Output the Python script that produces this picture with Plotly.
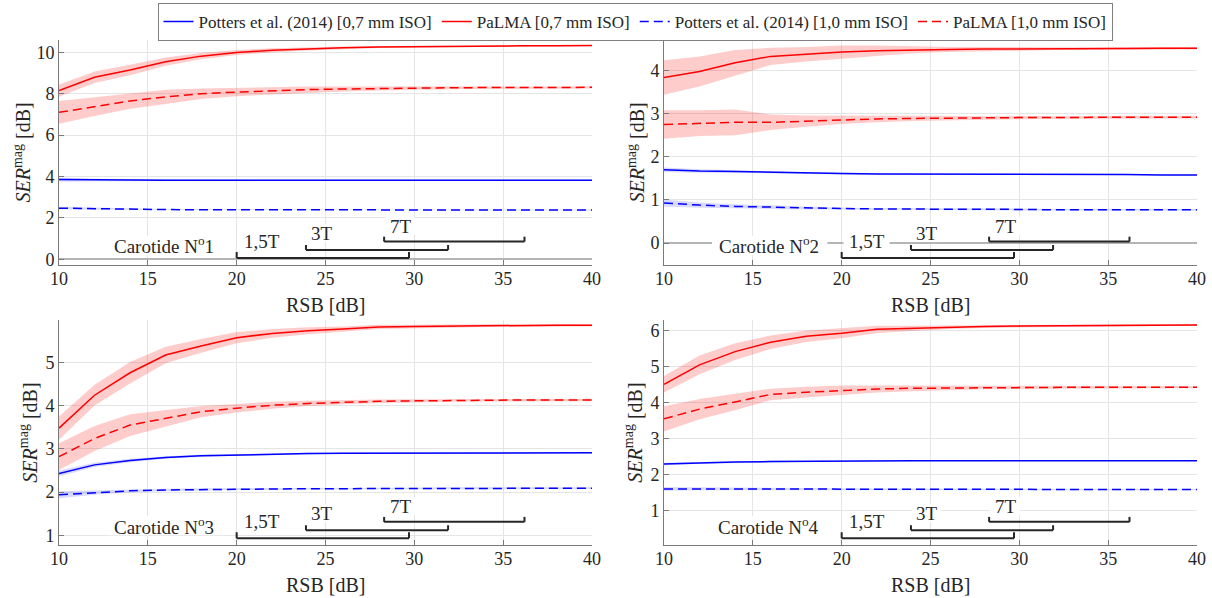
import plotly.graph_objects as go

# ---------------- data ----------------
rsb = [10, 12, 14, 16, 18, 20, 22, 24, 26, 28, 30, 32, 34, 36, 38, 40]
x_ticks = [10, 15, 20, 25, 30, 35, 40]

series_names = ["Potters et al. (2014) [0,7 mm ISO]", "PaLMA [0,7 mm ISO]",
                "Potters et al. (2014) [1,0 mm ISO]", "PaLMA [1,0 mm ISO]"]

# Carotide 1
c1_potters07 = [3.85, 3.83, 3.83, 3.82, 3.82, 3.82, 3.82, 3.82, 3.82, 3.82, 3.82, 3.82, 3.82, 3.82, 3.82, 3.82]
c1_potters07_sd = [0.10, 0.06, 0.05, 0.04, 0.03, 0.03, 0.02, 0.02, 0.02, 0.02, 0.02, 0.02, 0.02, 0.02, 0.02, 0.02]
c1_palma07 = [8.15, 8.80, 9.15, 9.55, 9.82, 10.00, 10.10, 10.17, 10.22, 10.26, 10.28, 10.30, 10.31, 10.32, 10.32, 10.33]
c1_palma07_sd = [0.30, 0.28, 0.25, 0.20, 0.15, 0.12, 0.10, 0.08, 0.06, 0.05, 0.04, 0.04, 0.03, 0.03, 0.03, 0.03]
c1_potters10 = [2.47, 2.44, 2.42, 2.40, 2.39, 2.39, 2.38, 2.38, 2.38, 2.38, 2.38, 2.38, 2.38, 2.38, 2.38, 2.38]
c1_potters10_sd = [0.07, 0.05, 0.04, 0.03, 0.03, 0.02, 0.02, 0.02, 0.02, 0.02, 0.02, 0.02, 0.02, 0.02, 0.02, 0.02]
c1_palma10 = [7.10, 7.38, 7.65, 7.85, 8.00, 8.08, 8.15, 8.20, 8.23, 8.26, 8.28, 8.29, 8.30, 8.30, 8.31, 8.31]
c1_palma10_sd = [0.55, 0.45, 0.38, 0.35, 0.25, 0.20, 0.18, 0.15, 0.12, 0.10, 0.08, 0.07, 0.06, 0.05, 0.05, 0.05]

# Carotide 2
c2_potters07 = [1.70, 1.67, 1.66, 1.64, 1.62, 1.61, 1.60, 1.60, 1.60, 1.59, 1.59, 1.59, 1.59, 1.59, 1.58, 1.58]
c2_potters07_sd = [0.05, 0.04, 0.03, 0.02, 0.02, 0.02, 0.02, 0.01, 0.01, 0.01, 0.01, 0.01, 0.01, 0.01, 0.01, 0.01]
c2_palma07 = [3.84, 3.98, 4.18, 4.33, 4.38, 4.43, 4.46, 4.48, 4.49, 4.50, 4.50, 4.51, 4.51, 4.51, 4.52, 4.52]
c2_palma07_sd = [0.40, 0.35, 0.30, 0.20, 0.17, 0.15, 0.12, 0.08, 0.06, 0.05, 0.04, 0.03, 0.03, 0.03, 0.03, 0.03]
c2_potters10 = [0.93, 0.88, 0.85, 0.83, 0.81, 0.80, 0.79, 0.79, 0.78, 0.78, 0.78, 0.77, 0.77, 0.77, 0.77, 0.77]
c2_potters10_sd = [0.08, 0.06, 0.05, 0.04, 0.03, 0.02, 0.02, 0.02, 0.02, 0.02, 0.02, 0.02, 0.02, 0.02, 0.02, 0.02]
c2_palma10 = [2.75, 2.78, 2.80, 2.80, 2.83, 2.86, 2.88, 2.89, 2.90, 2.90, 2.91, 2.91, 2.92, 2.92, 2.92, 2.92]
c2_palma10_sd = [0.33, 0.30, 0.30, 0.18, 0.13, 0.10, 0.08, 0.06, 0.05, 0.04, 0.04, 0.03, 0.03, 0.03, 0.03, 0.03]

# Carotide 3
c3_potters07 = [2.43, 2.63, 2.73, 2.80, 2.84, 2.86, 2.88, 2.89, 2.90, 2.90, 2.90, 2.91, 2.91, 2.91, 2.91, 2.91]
c3_potters07_sd = [0.07, 0.05, 0.04, 0.03, 0.03, 0.02, 0.02, 0.02, 0.02, 0.02, 0.02, 0.02, 0.02, 0.02, 0.02, 0.02]
c3_palma07 = [3.48, 4.24, 4.76, 5.17, 5.38, 5.57, 5.67, 5.73, 5.77, 5.82, 5.83, 5.84, 5.85, 5.85, 5.86, 5.86]
c3_palma07_sd = [0.27, 0.24, 0.25, 0.19, 0.16, 0.13, 0.10, 0.08, 0.06, 0.05, 0.04, 0.04, 0.03, 0.03, 0.03, 0.03]
c3_potters10 = [1.94, 1.99, 2.03, 2.05, 2.06, 2.07, 2.07, 2.08, 2.08, 2.08, 2.08, 2.09, 2.09, 2.09, 2.09, 2.09]
c3_potters10_sd = [0.08, 0.05, 0.04, 0.03, 0.03, 0.02, 0.02, 0.02, 0.02, 0.02, 0.02, 0.02, 0.02, 0.02, 0.02, 0.02]
c3_palma10 = [2.82, 3.24, 3.55, 3.70, 3.86, 3.94, 4.01, 4.05, 4.08, 4.10, 4.11, 4.12, 4.12, 4.13, 4.13, 4.13]
c3_palma10_sd = [0.31, 0.29, 0.25, 0.19, 0.13, 0.10, 0.08, 0.06, 0.05, 0.04, 0.04, 0.03, 0.03, 0.03, 0.03, 0.03]

# Carotide 4
c4_potters07 = [2.29, 2.33, 2.35, 2.36, 2.37, 2.38, 2.38, 2.38, 2.38, 2.38, 2.38, 2.38, 2.38, 2.38, 2.38, 2.38]
c4_potters07_sd = [0.04, 0.03, 0.02, 0.02, 0.02, 0.02, 0.01, 0.01, 0.01, 0.01, 0.01, 0.01, 0.01, 0.01, 0.01, 0.01]
c4_palma07 = [4.51, 5.05, 5.42, 5.68, 5.85, 5.93, 6.04, 6.07, 6.10, 6.12, 6.13, 6.14, 6.15, 6.15, 6.16, 6.16]
c4_palma07_sd = [0.23, 0.26, 0.23, 0.19, 0.16, 0.14, 0.10, 0.07, 0.05, 0.04, 0.04, 0.03, 0.03, 0.03, 0.03, 0.03]
c4_potters10 = [1.60, 1.60, 1.60, 1.60, 1.60, 1.59, 1.59, 1.59, 1.59, 1.58, 1.58, 1.58, 1.58, 1.58, 1.58, 1.58]
c4_potters10_sd = [0.05, 0.04, 0.03, 0.03, 0.02, 0.02, 0.02, 0.02, 0.02, 0.02, 0.02, 0.02, 0.02, 0.02, 0.02, 0.02]
c4_palma10 = [3.55, 3.82, 4.02, 4.23, 4.29, 4.34, 4.38, 4.40, 4.41, 4.42, 4.42, 4.43, 4.43, 4.43, 4.43, 4.43]
c4_palma10_sd = [0.35, 0.28, 0.23, 0.16, 0.15, 0.14, 0.10, 0.08, 0.06, 0.05, 0.04, 0.04, 0.03, 0.03, 0.03, 0.03]

carotide_labels = ["Carotide N<sup>o</sup>1", "Carotide N<sup>o</sup>2",
                   "Carotide N<sup>o</sup>3", "Carotide N<sup>o</sup>4"]

# MRI field strength RSB ranges (brackets)
field_labels = ["1,5T", "3T", "7T"]
field_rsb_min = [20.0, 23.9, 28.3]
field_rsb_max = [29.7, 31.9, 36.2]

y_ranges = [[-0.28, 10.6], [-0.51, 4.71], [0.77, 5.98], [0.03, 6.3]]
y_ticks = [[0, 2, 4, 6, 8, 10], [0, 1, 2, 3, 4], [1, 2, 3, 4, 5], [1, 2, 3, 4, 5, 6]]

panels = [
    [(c1_potters07, c1_potters07_sd), (c1_palma07, c1_palma07_sd),
     (c1_potters10, c1_potters10_sd), (c1_palma10, c1_palma10_sd)],
    [(c2_potters07, c2_potters07_sd), (c2_palma07, c2_palma07_sd),
     (c2_potters10, c2_potters10_sd), (c2_palma10, c2_palma10_sd)],
    [(c3_potters07, c3_potters07_sd), (c3_palma07, c3_palma07_sd),
     (c3_potters10, c3_potters10_sd), (c3_palma10, c3_palma10_sd)],
    [(c4_potters07, c4_potters07_sd), (c4_palma07, c4_palma07_sd),
     (c4_potters10, c4_potters10_sd), (c4_palma10, c4_palma10_sd)],
]

# ---------------- style ----------------
FONT = "Liberation Serif, DejaVu Serif, serif"
TXT = "#262626"
line_colors = ["#0000ff", "#ff0000", "#0000ff", "#ff0000"]
band_colors = ["rgba(0,0,255,0.15)", "rgba(255,0,0,0.2)", "rgba(0,0,255,0.15)", "rgba(255,0,0,0.2)"]
dashes = ["solid", "solid", "9px,5px", "9px,5px"]

W, H = 1212, 598
x_dom = [[59 / W, 592 / W], [664 / W, 1197 / W], [59 / W, 592 / W], [664 / W, 1197 / W]]
y_dom = [[1 - 265 / H, 1 - 40 / H], [1 - 265 / H, 1 - 40 / H],
         [1 - 545.3 / H, 1 - 320 / H], [1 - 545.3 / H, 1 - 320 / H]]

fig = go.Figure()
layout = {}
annotations = []
shapes = []

for p in range(4):
    sfx = "" if p == 0 else str(p + 1)
    xa, ya = "x" + sfx, "y" + sfx
    # bands first
    for s, (m, sd) in enumerate(panels[p]):
        upper = [a + b for a, b in zip(m, sd)]
        lower = [a - b for a, b in zip(m, sd)]
        fig.add_trace(go.Scatter(x=rsb + rsb[::-1], y=upper + lower[::-1], fill="toself",
                                 fillcolor=band_colors[s], line=dict(width=0),
                                 mode="lines", hoverinfo="skip", showlegend=False,
                                 xaxis=xa, yaxis=ya))
    for s, (m, sd) in enumerate(panels[p]):
        fig.add_trace(go.Scatter(x=rsb, y=m, mode="lines", name=series_names[s],
                                 line=dict(color=line_colors[s], width=1.5, dash=dashes[s]),
                                 showlegend=(p == 0), xaxis=xa, yaxis=ya))

    layout["xaxis" + sfx] = dict(
        domain=x_dom[p], range=[10, 40], tickvals=x_ticks, anchor=ya, automargin=False,
        showgrid=True, gridcolor="#e5e5e5", gridwidth=1, zeroline=False,
        showline=True, linecolor="#7a7a7a", linewidth=1,
        ticks="inside", ticklen=5, tickcolor="#7a7a7a", ticklabelstandoff=-3,
        tickfont=dict(family=FONT, size=18, color=TXT))
    layout["yaxis" + sfx] = dict(
        domain=y_dom[p], range=y_ranges[p], tickvals=y_ticks[p], anchor=xa, automargin=False,
        showgrid=True, gridcolor="#e5e5e5", gridwidth=1,
        zeroline=True, zerolinecolor="#b5b5b5", zerolinewidth=1.5,
        showline=True, linecolor="#7a7a7a", linewidth=1,
        ticks="inside", ticklen=5, tickcolor="#7a7a7a",
        tickfont=dict(family=FONT, size=18, color=TXT))

    # helper: fraction of this panel's height -> paper y
    y0p, y1p = y_dom[p]

    def py(frac, y0p=y0p, y1p=y1p):
        return y0p + frac * (y1p - y0p)

    # white label boxes (drawn under the brackets)
    label_boxes = [(12.7, 19.2, 0.045, 0.130)]
    bracket_levels = [(0.031, 0.058), (0.067, 0.089), (0.104, 0.126)]
    label_levels = [0.104, 0.142, 0.173]
    label_dx = [0.3, 0.15, 0.2]
    box_x = [(20.1, 22.7), (23.95, 25.6), (28.35, 30.05)]
    for k in range(3):
        shapes.append(dict(type="rect", xref=xa, yref="paper", x0=box_x[k][0], x1=box_x[k][1],
                           y0=py(label_levels[k] - 0.04), y1=py(label_levels[k] + 0.04),
                           fillcolor="white", line=dict(width=0)))
    for (bx0, bx1, by0, by1) in label_boxes:
        shapes.append(dict(type="rect", xref=xa, yref="paper", x0=bx0, x1=bx1,
                           y0=py(by0), y1=py(by1), fillcolor="white", line=dict(width=0)))
    for k in range(3):
        yb, yt = py(bracket_levels[k][0]), py(bracket_levels[k][1])
        x0, x1 = field_rsb_min[k], field_rsb_max[k]
        lc = dict(color="#262626", width=2)
        shapes.append(dict(type="line", xref=xa, yref="paper", x0=x0, x1=x1, y0=yb, y1=yb, line=lc))
        shapes.append(dict(type="line", xref=xa, yref="paper", x0=x0, x1=x0, y0=yb, y1=yt, line=lc))
        shapes.append(dict(type="line", xref=xa, yref="paper", x0=x1, x1=x1, y0=yb, y1=yt, line=lc))
        annotations.append(dict(text=field_labels[k], xref=xa, yref="paper",
                                x=x0 + label_dx[k], y=py(label_levels[k]),
                                xanchor="left", yanchor="middle", showarrow=False,
                                font=dict(family=FONT, size=19, color=TXT)))
    annotations.append(dict(text=carotide_labels[p], xref=xa, yref="paper", x=15.9, y=py(0.087),
                            xanchor="center", yanchor="middle", showarrow=False,
                            font=dict(family=FONT, size=19, color=TXT)))
    # axis titles
    xc = (x_dom[p][0] + x_dom[p][1]) / 2
    yc = (y0p + y1p) / 2
    annotations.append(dict(text="RSB [dB]", xref="paper", yref="paper", x=xc,
                            y=y0p - 40 / H, xanchor="center", yanchor="middle",
                            showarrow=False, font=dict(family=FONT, size=20, color=TXT)))
    ytitle_x = [21, 635, 28, 633][p] / W
    annotations.append(dict(text="<i>SER</i><sup>mag</sup> [dB]", xref="paper", yref="paper",
                            x=ytitle_x, y=yc, textangle=-90, xanchor="center", yanchor="middle",
                            showarrow=False, font=dict(family=FONT, size=20, color=TXT)))

fig.update_layout(
    width=W, height=H, margin=dict(l=0, r=0, t=0, b=0),
    paper_bgcolor="white", plot_bgcolor="white",
    font=dict(family=FONT, color=TXT),
    legend=dict(orientation="h", x=635 / W, xanchor="center", y=1 - 3 / H, yanchor="top",
                bgcolor="white", bordercolor="#808080", borderwidth=1,
                font=dict(family=FONT, size=17, color=TXT), itemwidth=30, tracegroupgap=0),
    annotations=annotations, shapes=shapes, **layout)

fig.write_html("out.html", config={"displayModeBar": False},
               post_script="document.body.style.margin='0';")
